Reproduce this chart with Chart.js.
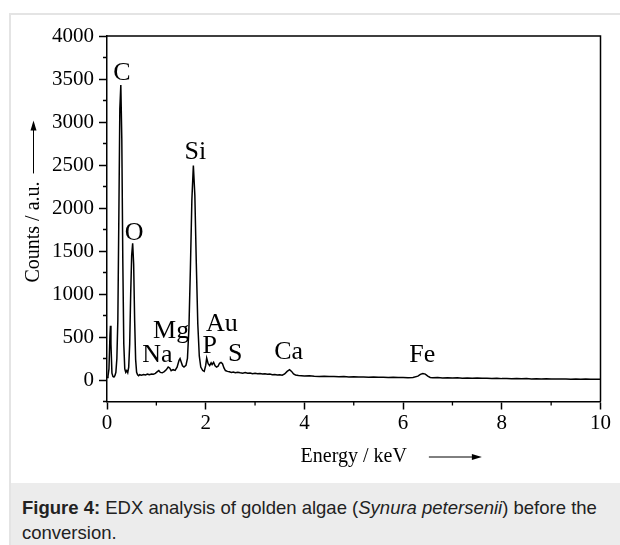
<!DOCTYPE html>
<html>
<head>
<meta charset="utf-8">
<script src="https://cdn.jsdelivr.net/npm/chart.js@4"></script>
<style>
html, body { margin: 0; padding: 0; background: #fff; }
body { width: 620px; height: 545px; position: relative; overflow: hidden; }
#frame { position: absolute; left: 9px; top: 13px; width: 660px; height: 580px;
         border-left: 2px solid #e4e4e4; border-top: 2px solid #e4e4e4; }
#plot { position: absolute; left: 0; top: 0; }
#caption { position: absolute; left: 11px; top: 483px; width: 609px; height: 62px;
           background: #ececec; box-sizing: border-box; padding: 12px 4px 0 11px;
           font: 18.5px/25px "Liberation Sans", Arial, sans-serif; color: #222; }
</style>
</head>
<body>
<div id="frame"></div>
<canvas id="plot" width="620" height="480"></canvas>
<div id="caption"><b>Figure 4:</b> EDX analysis of golden algae (<i>Synura petersenii</i>) before the conversion.</div>
<script>
// EDX spectrum: energy (keV) and detector counts
const energy = [
  0.00, 0.02, 0.04, 0.06, 0.07, 0.08, 0.10, 0.12, 0.14, 0.16, 0.18, 0.20,
  0.22, 0.24, 0.26, 0.28, 0.30, 0.32, 0.34, 0.36, 0.38, 0.40, 0.42, 0.44,
  0.46, 0.48, 0.50, 0.52, 0.54, 0.56, 0.58, 0.60, 0.62, 0.64, 0.66, 0.70,
  0.74, 0.78, 0.82, 0.86, 0.90, 0.94, 0.98, 1.02, 1.05, 1.08, 1.12, 1.16,
  1.20, 1.24, 1.27, 1.30, 1.34, 1.38, 1.42, 1.46, 1.48, 1.50, 1.53, 1.56,
  1.60, 1.63, 1.66, 1.69, 1.72, 1.75, 1.78, 1.81, 1.84, 1.87, 1.90, 1.94,
  1.97, 2.00, 2.02, 2.05, 2.08, 2.11, 2.13, 2.16, 2.19, 2.22, 2.25, 2.28,
  2.31, 2.34, 2.37, 2.40, 2.44, 2.48, 2.52, 2.56, 2.60, 2.65, 2.70, 2.75,
  2.80, 2.85, 2.90, 2.95, 3.00, 3.05, 3.10, 3.15, 3.20, 3.25, 3.30, 3.35,
  3.40, 3.45, 3.50, 3.55, 3.60, 3.65, 3.70, 3.74, 3.78, 3.82, 3.88, 3.94,
  4.00, 4.10, 4.20, 4.30, 4.40, 4.50, 4.60, 4.70, 4.80, 4.90, 5.00, 5.10,
  5.20, 5.30, 5.40, 5.50, 5.60, 5.70, 5.80, 5.90, 6.00, 6.10, 6.20, 6.30,
  6.35, 6.40, 6.45, 6.50, 6.55, 6.60, 6.70, 6.80, 6.90, 7.00, 7.10, 7.20,
  7.30, 7.40, 7.50, 7.60, 7.70, 7.80, 7.90, 8.00, 8.10, 8.20, 8.30, 8.40,
  8.50, 8.60, 8.70, 8.80, 8.90, 9.00, 9.10, 9.20, 9.30, 9.40, 9.50, 9.60,
  9.70, 9.80, 9.90, 10.00
];
const counts = [
    30,   45,  130,  520,  630,  420,   80,   40,   35,   50,   90,  250,
   700, 1900, 3150, 3430, 2800, 1400,  420,  130,   90,  110,   85,  150,
   420, 1000, 1450, 1590, 1350,  700,  240,   90,   60,   50,   62,   56,
    64,   58,   68,   62,   70,   66,   78,   98,  110,   88,   84,   98,
   118,  150,  140,  108,  120,  112,  150,  230,  250,  215,  165,  150,
   170,  250,  600, 1300, 2100, 2495, 2150, 1350,  650,  280,  150,  110,
   100,  170,  255,  190,  168,  200,  180,  205,  165,  150,  160,  195,
   205,  190,  140,  110,  100,   95,   88,   92,   85,   90,   84,   80,
    86,   78,   82,   74,   78,   72,   76,   70,   72,   66,   70,   62,
    64,   58,   60,   56,   70,  100,  120,  100,   70,   58,   52,   50,
    46,   48,   44,   42,   45,   40,   42,   38,   40,   36,   38,   34,
    36,   33,   35,   31,   33,   30,   32,   28,   30,   27,   30,   45,
    65,   76,   68,   45,   30,   26,   28,   24,   26,   23,   25,   21,
    23,   20,   22,   19,   20,   17,   19,   16,   18,   15,   17,   14,
    16,   13,   15,   12,   14,   12,   13,   11,   12,   10,   12,   10,
    11,    9,   10,    9
];

// axis tick labels
const xMajorTicks = [0, 2, 4, 6, 8, 10];
const yMajorTicks = [0, 500, 1000, 1500, 2000, 2500, 3000, 3500, 4000];

// element labels placed at (energy, counts) of their text baseline
const peakNames  = ['C', 'O', 'Si', 'Na', 'Mg', 'Au', 'P', 'S', 'Ca', 'Fe'];
const peakEnergy = [0.30, 0.55, 1.79, 1.02, 1.30, 2.33, 2.08, 2.60, 3.68, 6.39];
const peakCounts = [3490, 1630, 2570, 205, 485, 575, 310, 225, 240, 205];

const SERIF = '"Liberation Serif", "Times New Roman", serif';

const frameAndLabels = {
  id: 'frameAndLabels',
  afterDraw(chart) {
    const { ctx, chartArea: a, scales: { x, y } } = chart;
    ctx.save();
    ctx.strokeStyle = '#000';
    ctx.fillStyle = '#000';

    // closing box on top and right
    ctx.lineWidth = 1.5;
    ctx.beginPath();
    ctx.moveTo(a.left, a.top);
    ctx.lineTo(a.right, a.top);
    ctx.lineTo(a.right, a.bottom);
    ctx.stroke();

    // short minor ticks
    ctx.lineWidth = 1.3;
    ctx.beginPath();
    x.ticks.forEach(t => {
      if (!xMajorTicks.includes(t.value)) {
        const px = x.getPixelForValue(t.value);
        ctx.moveTo(px, a.bottom);
        ctx.lineTo(px, a.bottom + 4);
      }
    });
    y.ticks.forEach(t => {
      if (!yMajorTicks.includes(t.value)) {
        const py = y.getPixelForValue(t.value);
        ctx.moveTo(a.left, py);
        ctx.lineTo(a.left - 4, py);
      }
    });
    ctx.stroke();

    // element labels
    ctx.font = '26px ' + SERIF;
    ctx.textAlign = 'center';
    ctx.textBaseline = 'alphabetic';
    peakNames.forEach((n, i) => {
      ctx.fillText(n, x.getPixelForValue(peakEnergy[i]), y.getPixelForValue(peakCounts[i]));
    });

    // axis titles with arrows
    ctx.font = '20px ' + SERIF;
    ctx.textBaseline = 'middle';
    ctx.lineWidth = 1;

    const xText = 'Energy / keV';
    const xcx = (a.left + a.right) / 2;
    const xcy = a.bottom + 55;
    ctx.fillText(xText, xcx, xcy);
    const xEnd = xcx + ctx.measureText(xText).width / 2;
    const ax0 = xEnd + 22, ax1 = ax0 + 53;
    ctx.beginPath();
    ctx.moveTo(ax0, xcy + 0.5);
    ctx.lineTo(ax1 - 8, xcy + 0.5);
    ctx.stroke();
    ctx.beginPath();
    ctx.moveTo(ax1, xcy + 0.5);
    ctx.lineTo(ax1 - 10, xcy - 2.5);
    ctx.lineTo(ax1 - 10, xcy + 3.5);
    ctx.closePath();
    ctx.fill();

    const yText = 'Counts / a.u.';
    const ycx = a.left - 73;
    const ycy = a.top + 196;
    ctx.save();
    ctx.translate(ycx, ycy);
    ctx.rotate(-Math.PI / 2);
    ctx.fillText(yText, 0, 0);
    ctx.restore();
    const yTop = ycy - ctx.measureText(yText).width / 2;
    const ay0 = yTop - 8, ay1 = ay0 - 53;
    ctx.beginPath();
    ctx.moveTo(ycx - 0.5, ay0);
    ctx.lineTo(ycx - 0.5, ay1 + 8);
    ctx.stroke();
    ctx.beginPath();
    ctx.moveTo(ycx - 0.5, ay1);
    ctx.lineTo(ycx - 3.5, ay1 + 10);
    ctx.lineTo(ycx + 2.5, ay1 + 10);
    ctx.closePath();
    ctx.fill();

    ctx.restore();
  }
};

new Chart(document.getElementById('plot'), {
  type: 'scatter',
  data: {
    datasets: [{
      data: energy.map((e, i) => ({ x: e, y: counts[i] })),
      showLine: true,
      borderColor: '#000',
      borderWidth: 1.5,
      pointRadius: 0,
      tension: 0,
      fill: false
    }]
  },
  options: {
    responsive: false,
    devicePixelRatio: 1,
    animation: false,
    layout: { padding: { left: 47, top: 36, right: 19.5, bottom: 28.5 } },
    plugins: { legend: { display: false }, tooltip: { enabled: false } },
    scales: {
      x: {
        type: 'linear',
        min: 0, max: 10,
        afterFit(s) { s.height = 50; },
        ticks: {
          stepSize: 1, autoSkip: false, maxRotation: 0, padding: 1,
          color: '#000', font: { family: SERIF, size: 21 },
          callback: v => xMajorTicks.includes(v) ? String(v) : ''
        },
        grid: {
          drawOnChartArea: false, drawTicks: true, tickLength: 8, tickWidth: 1.5,
          tickColor: c => xMajorTicks.includes(c.tick.value) ? '#000' : 'rgba(0,0,0,0)'
        },
        border: { display: true, color: '#000', width: 1.5 }
      },
      y: {
        type: 'linear',
        min: -250, max: 4000,
        afterFit(s) { s.width = 60; },
        ticks: {
          stepSize: 250, autoSkip: false, padding: 5,
          color: '#000', font: { family: SERIF, size: 21 },
          callback: v => yMajorTicks.includes(v) ? String(v) : ''
        },
        grid: {
          drawOnChartArea: false, drawTicks: true, tickLength: 8, tickWidth: 1.5,
          tickColor: c => yMajorTicks.includes(c.tick.value) ? '#000' : 'rgba(0,0,0,0)'
        },
        border: { display: true, color: '#000', width: 1.5 }
      }
    }
  },
  plugins: [frameAndLabels]
});
</script>
</body>
</html>
